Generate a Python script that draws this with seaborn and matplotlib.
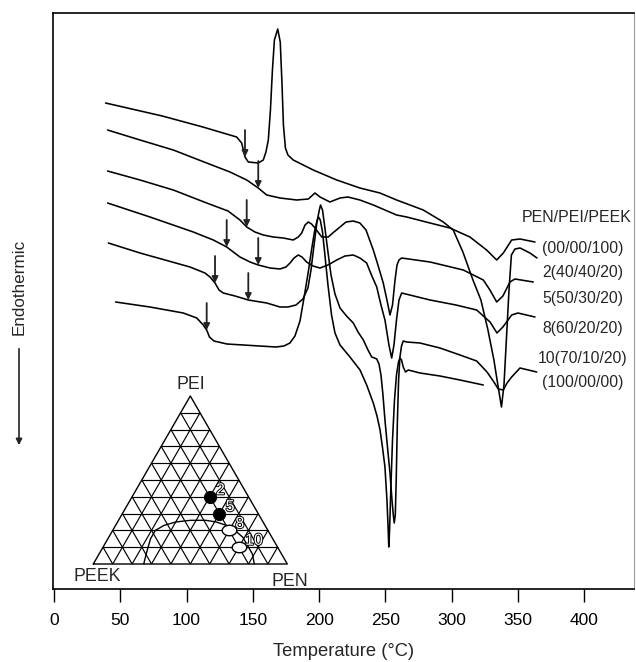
import numpy as np
import pandas as pd
import matplotlib
matplotlib.use("Agg")
import matplotlib.pyplot as plt
import matplotlib.patheffects as pe
from matplotlib.path import Path
from matplotlib.patches import FancyArrowPatch
import seaborn as sns

# ---------------- DSC traces (temperature in degC, heat flow in arbitrary units, exo up) -------------
t_00_00_100 = [38.9, 81.7, 112.3, 137.8, 141.6, 144.1, 146.6, 154.1, 157.9, 159.9, 161.7, 163.3, 164.8,
               166.3, 168.8, 170.7, 172.0, 173.1, 174.6, 176.5, 180.5, 195.6, 213.3, 230.8, 245.9, 258.5,
               278.6, 293.7, 301.2, 308.5, 316.1, 322.1, 327.4, 331.9, 334.9, 337.6, 339.5, 341.7, 343.3,
               345.1, 347.8, 351.6, 359.1, 364.4]
q_00_00_100 = [48.6, 47.3, 46.2, 45.2, 44.6, 43.2, 42.7, 42.6, 42.9, 43.7, 44.9, 47.9, 51.9,
               54.9, 56.0, 54.7, 50.6, 46.4, 44.1, 43.4, 42.9, 41.9, 40.9, 40.1, 39.6, 38.9,
               37.9, 36.7, 35.9, 33.7, 30.9, 28.9, 25.9, 22.9, 20.4, 18.2, 20.4, 25.9, 29.9,
               33.4, 34.0, 34.1, 33.6, 33.1]

t_40_40_20 = [40.4, 64.9, 90.0, 115.2, 132.8, 145.4, 154.1, 160.5, 170.5, 183.1, 191.9, 196.9, 200.7,
              208.2, 215.8, 221.8, 230.8, 240.9, 258.5, 266.1, 283.7, 298.7, 313.8, 326.4, 334.0,
              339.0, 345.3, 351.6, 362.9]
q_40_40_20 = [45.9, 44.9, 43.9, 42.6, 41.7, 40.9, 40.1, 39.4, 39.1, 38.9, 39.0, 39.6, 39.2,
              38.7, 39.1, 39.2, 38.9, 38.4, 37.4, 37.2, 36.6, 36.1, 35.2, 33.9, 32.9,
              33.6, 34.9, 35.0, 34.7]

t_50_30_20 = [40.4, 64.9, 90.0, 115.2, 131.3, 140.3, 145.4, 151.6, 157.9, 165.4, 173.0, 180.5, 184.3,
              186.9, 189.4, 191.9, 194.3, 196.9, 202.0, 206.9, 211.2, 215.8, 220.3, 225.8, 230.8,
              235.4, 240.9, 244.4, 248.4, 251.2, 253.5, 255.4, 257.3, 258.8, 260.3, 262.3, 283.7,
              308.8, 323.9, 328.9, 334.0, 338.7, 344.0, 347.8, 361.6]
q_50_30_20 = [41.8, 40.9, 39.9, 38.6, 37.8, 36.9, 36.2, 35.7, 35.4, 35.2, 35.1, 34.9, 35.2,
              35.6, 36.4, 36.7, 36.5, 36.1, 35.2, 35.2, 35.7, 36.2, 36.7, 36.8, 36.6,
              35.9, 33.9, 32.4, 30.6, 28.9, 27.4, 28.4, 30.9, 32.4, 32.9, 33.1, 32.7,
              31.9, 30.9, 29.9, 28.7, 29.3, 30.7, 31.0, 30.7]

t_60_20_20 = [40.4, 72.4, 105.1, 120.2, 130.3, 140.3, 147.9, 154.1, 163.0, 170.5, 175.0, 178.1, 181.1,
              184.3, 187.1, 190.6, 195.4, 200.7, 206.7, 213.3, 219.5, 225.8, 230.8, 235.9, 239.5,
              243.5, 246.7, 249.7, 252.7, 254.8, 256.5, 258.4, 260.3, 262.3, 283.7, 303.3, 318.9,
              329.0, 334.2, 338.7, 345.3, 350.0, 362.9]
q_60_20_20 = [38.6, 37.2, 35.7, 34.9, 34.2, 33.2, 32.7, 32.4, 32.1, 32.0, 32.2, 32.6, 33.1,
              33.4, 33.2, 32.7, 32.3, 32.1, 32.4, 32.9, 33.3, 33.4, 33.1, 32.6, 31.4,
              30.2, 28.4, 26.9, 24.4, 23.1, 24.4, 26.9, 28.9, 29.6, 28.9, 28.4, 27.9,
              26.7, 25.6, 26.2, 27.4, 27.6, 27.2]

t_70_10_20 = [41.0, 64.9, 102.6, 113.9, 117.7, 121.5, 124.5, 127.7, 136.6, 146.6, 160.5, 170.5, 176.5,
              182.6, 187.8, 191.6, 193.9, 196.2, 198.4, 200.2, 201.1, 202.6, 204.4, 206.7, 209.0,
              212.0, 215.8, 220.7, 225.8, 229.4, 233.4, 236.9, 239.7, 241.8, 243.5, 245.2, 246.7,
              248.2, 249.7, 251.6, 253.5, 255.0, 256.0, 256.7, 257.5, 258.2, 259.1, 260.0, 261.0,
              262.2, 263.5, 266.1, 276.1, 291.2, 306.3, 318.9, 326.7, 331.4, 335.2, 339.0, 341.8,
              345.3, 351.6, 364.2]
q_70_10_20 = [34.6, 33.6, 32.2, 31.6, 31.2, 30.6, 29.9, 29.6, 29.3, 28.9, 28.6, 28.2, 28.2,
              28.4, 29.0, 30.1, 31.9, 34.4, 36.7, 37.9, 38.4, 37.9, 36.1, 33.7, 31.4,
              29.5, 28.1, 27.3, 26.6, 25.7, 24.9, 23.9, 23.2, 23.1, 23.0, 22.5, 21.4,
              19.4, 16.9, 14.2, 11.6, 8.9, 7.4, 6.6, 7.4, 10.9, 16.9, 20.9, 23.2,
              24.3, 24.8, 24.7, 24.6, 24.1, 23.4, 22.8, 21.7, 20.8, 20.0, 19.9, 20.6,
              21.2, 22.1, 21.7]

t_100_00_00 = [46.5, 72.4, 97.5, 107.7, 112.6, 115.2, 117.3, 120.7, 130.5, 155.1, 167.5, 173.5, 178.0,
               181.8, 185.6, 188.6, 191.6, 194.3, 196.5, 198.4, 199.6, 200.9, 202.6, 204.4, 206.7,
               209.4, 212.0, 215.8, 223.3, 230.9, 235.9, 240.9, 243.7, 246.0, 247.8, 249.7, 251.2,
               252.0, 252.6, 253.2, 254.1, 255.4, 256.9, 258.4, 259.9, 261.0, 262.2, 263.5, 265.2,
               267.3, 276.1, 291.2, 306.3, 323.9]
q_100_00_00 = [28.7, 28.2, 27.6, 27.1, 26.4, 25.9, 25.2, 24.8, 24.5, 24.3, 24.2, 24.3, 24.6,
               25.3, 26.8, 29.1, 31.5, 33.9, 35.7, 36.8, 37.2, 36.9, 35.7, 33.4, 30.4,
               27.4, 25.6, 24.4, 23.2, 21.9, 20.4, 18.6, 17.3, 15.9, 14.2, 12.2, 8.9,
               6.4, 4.2, 5.9, 9.9, 14.9, 18.9, 21.4, 22.7, 23.1, 22.9, 22.2, 21.7,
               21.9, 21.6, 21.3, 20.9, 20.4]

# glass transition temperatures marked with arrows (degC)
tg_00_00_100 = [144.1]
tg_40_40_20 = [154.1]
tg_50_30_20 = [145.4]
tg_60_20_20 = [130.3, 154.1]
tg_70_10_20 = [121.5, 146.6]
tg_100_00_00 = [115.2]

series_names = ["(00/00/100)", "2(40/40/20)", "5(50/30/20)", "8(60/20/20)", "10(70/10/20)", "(100/00/00)"]
series_t = [t_00_00_100, t_40_40_20, t_50_30_20, t_60_20_20, t_70_10_20, t_100_00_00]
series_q = [q_00_00_100, q_40_40_20, q_50_30_20, q_60_20_20, q_70_10_20, q_100_00_00]
series_tg = [tg_00_00_100, tg_40_40_20, tg_50_30_20, tg_60_20_20, tg_70_10_20, tg_100_00_00]
label_level = [34.1, 31.6, 29.1, 26.1, 23.1, 20.6]

# ---------------- ternary inset data (fractions PEN / PEI / PEEK) -------------
blend_ids = ["2", "5", "8", "10"]
blend_pen = [0.40, 0.50, 0.60, 0.70]
blend_pei = [0.40, 0.30, 0.20, 0.10]
blend_filled = [True, True, False, False]
boundary_pen = [0.26, 0.24, 0.22, 0.22, 0.25, 0.30, 0.37, 0.45, 0.51, 0.57, 0.63, 0.69, 0.75, 0.79, 0.83]
boundary_pei = [0.00, 0.07, 0.15, 0.20, 0.23, 0.25, 0.26, 0.26, 0.25, 0.23, 0.20, 0.16, 0.10, 0.06, 0.00]

xticks = [0, 50, 100, 150, 200, 250, 300, 350, 400]

# ---------------- figure -------------
sns.set_theme(style="white")
plt.rcParams["font.family"] = ["Liberation Sans", "DejaVu Sans"]

W, H = 636, 662
fig = plt.figure(figsize=(W / 100, H / 100), dpi=100)
ax = fig.add_axes([53 / W, 73 / H, 581 / W, 576 / H])

frames = []
for name, t, q in zip(series_names, series_t, series_q):
    frames.append(pd.DataFrame({"T": t, "q": q, "blend": name}))
df = pd.concat(frames, ignore_index=True)

sns.lineplot(data=df, x="T", y="q", hue="blend", units="blend", estimator=None, sort=False,
             palette={n: "black" for n in series_names}, legend=False, linewidth=1.15, ax=ax)

# Tg arrows pointing onto the traces
arrow_len = 2.7
for t, q, tgs in zip(series_t, series_q, series_tg):
    for tg in tgs:
        y_tip = float(np.interp(tg, t, q))
        ax.annotate("", xy=(tg, y_tip), xytext=(tg, y_tip + arrow_len),
                    arrowprops=dict(arrowstyle="-|>", color="#222222", lw=1.3,
                                    mutation_scale=9, shrinkA=0, shrinkB=0))

# composition labels next to the traces
ax.text(394.6, 37.2, "PEN/PEI/PEEK", ha="center", va="center", fontsize=11.5)
for name, lvl in zip(series_names, label_level):
    ax.text(399.1, lvl, name, ha="center", va="center", fontsize=11.3)

ax.set_xlim(-0.75, 437.6)
ax.set_ylim(0, 57.6)
ax.set_xticks(xticks)
ax.set_xticklabels([str(v) for v in xticks])
ax.set_yticks([])
ax.tick_params(axis="x", direction="out", length=9, width=1.0, pad=8, labelsize=12.5,
               bottom=True, colors="black")
ax.set_xlabel("Temperature (\u00b0C)", fontsize=13.2, labelpad=11)
ax.set_ylabel("")
for side in ["left", "bottom", "top"]:
    ax.spines[side].set_color("black")
    ax.spines[side].set_linewidth(1.2)
ax.spines["right"].set_color("#9a9a9a")
ax.spines["right"].set_linewidth(0.8)

# endothermic direction marker
fig.text(19 / W, 1 - 287 / H, "Endothermic", rotation=90, ha="center", va="center", fontsize=12.3)
fig.add_artist(FancyArrowPatch(
    (19 / W, 1 - 346 / H), (19 / W, 1 - 448 / H), transform=fig.transFigure,
    arrowstyle="-|>", mutation_scale=9, color="#222222", lw=1.2))

# ---------------- ternary inset -------------
s3 = np.sqrt(3) / 2
axt = fig.add_axes([44.8 / W, (H - 593.1) / H, 271.6 / W, 213.4 / H])
axt.set_xlim(-0.25, 1.15)
axt.set_ylim(-0.15, 0.95)
axt.axis("off")
axt.patch.set_alpha(0)

def tern(a, b):
    a = np.asarray(a, float)
    b = np.asarray(b, float)
    return a + 0.5 * b, s3 * b

grid_kw = dict(color="black", lw=0.85, solid_capstyle="butt")
for k in range(1, 10):
    f = k / 10
    x, y = tern([0, 1 - f], [f, f])          # constant PEI
    axt.plot(x, y, **grid_kw)
    x, y = tern([f, f], [0, 1 - f])          # constant PEN
    axt.plot(x, y, **grid_kw)
    x, y = tern([1 - f, 0], [0, 1 - f])      # constant PEEK
    axt.plot(x, y, **grid_kw)
x, y = tern([0, 1, 0, 0], [0, 0, 1, 0])
axt.plot(x, y, color="black", lw=1.0)

bx, by = tern(boundary_pen, boundary_pei)
axt.plot(bx, by, color="black", lw=1.0)

px, py = tern(blend_pen, blend_pei)
pts = pd.DataFrame({"x": px, "y": py, "id": blend_ids, "filled": blend_filled})
circ = Path.unit_circle()
ellipse = Path(circ.vertices * np.array([1.0, 0.72]), circ.codes)
sns.scatterplot(data=pts[pts.filled], x="x", y="y", color="black", s=75, edgecolor="black",
                linewidth=0.8, ax=axt, zorder=5, legend=False)
sns.scatterplot(data=pts[~pts.filled], x="x", y="y", marker=ellipse, facecolor="white",
                edgecolor="black", s=110, linewidth=1.0, ax=axt, zorder=5, legend=False)
for _, r in pts.iterrows():
    axt.annotate(r["id"], xy=(r["x"], r["y"]), xytext=(4.5, 5), textcoords="offset points",
                 ha="left", va="center", fontsize=11.5, color="white", zorder=6,
                 path_effects=[pe.withStroke(linewidth=1.4, foreground="black")])

axt.text(0.502, 0.926, "PEI", ha="center", va="center", fontsize=12.8)
axt.text(0.019, -0.062, "PEEK", ha="center", va="center", fontsize=12.8)
axt.text(1.014, -0.088, "PEN", ha="center", va="center", fontsize=12.8)

fig.savefig("out.png", dpi=100)
